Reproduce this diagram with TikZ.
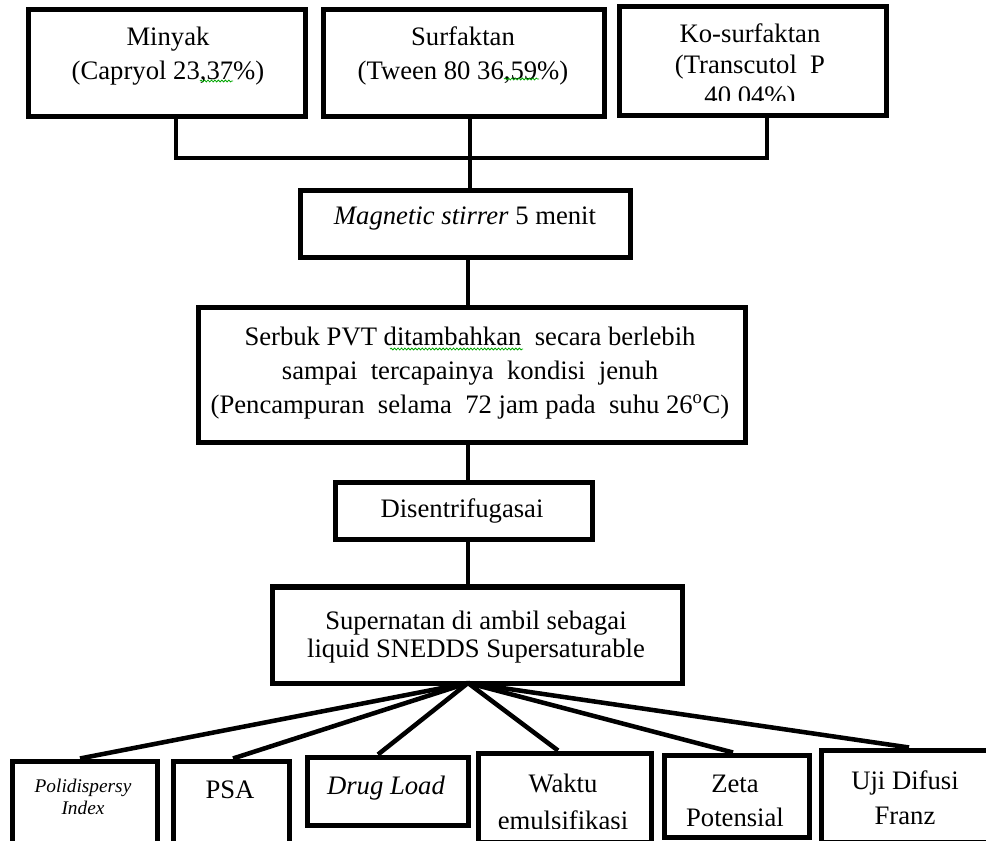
\documentclass[tikz,border=0pt]{standalone}
\usepackage{fontspec}
\setmainfont{Liberation Serif}
\usetikzlibrary{fit,decorations.pathmorphing}
\tikzset{
  box/.style={draw, line width=3.75pt, inner sep=0pt},
  txt/.style={align=center, inner sep=0pt, font=\fontsize{20}{25.5}\selectfont},
  conn/.style={line width=3.4pt},
  squig/.style={draw=green!65!black, line width=0.6pt, decorate,
    decoration={snake, amplitude=0.7, segment length=2.6}}
}
\begin{document}
\begin{tikzpicture}[x=0.75pt,y=-0.75pt]
\useasboundingbox (0,0) rectangle (986,841);
\clip (0,0) rectangle (986,841);

% ---- top row
\node[box, fit={(28,10) (305,117)}] (minyak) {};
\node[box, fit={(323,10) (604,117)}] (surf) {};
\node[box, fit={(619,7) (886,116)}] (ko) {};
\node[txt] (minyakT) at (168,56) {Minyak\\(Capryol 23,37\%)};
\node[txt] (surfT) at (463,56) {Surfaktan\\(Tween 80 36,59\%)};
\begin{scope}
  \clip (619,7) rectangle (886,101);
  \node[txt, font=\fontsize{20}{23.5}\selectfont] (koT) at (750,67) {Ko-surfaktan\\(Transcutol~~P\\40,04\%)};
\end{scope}
\draw[squig] (200,81) -- (233,81);
\draw[squig] (504,79) -- (539,79);

% ---- chain
\node[box, fit={(300,191) (630,258)}] (mag) {};
\node[txt] (magT) at (465,219) {\textit{Magnetic stirrer} 5 menit};
\node[box, fit={(198,308) (745,443)}] (serbuk) {};
\node[txt] (serbukT) at (470,373) {Serbuk PVT ditambahkan~ secara berlebih\\sampai~ tercapainya~ kondisi~ jenuh\\(Pencampuran~ selama~ 72 jam pada~ suhu 26\textsuperscript{o}C)};
\draw[squig] (390,349) -- (523,349);
\node[box, fit={(335,483) (592,540)}] (dis) {};
\node[txt] (disT) at (462,511) {Disentrifugasai};
\node[box, fit={(272,587) (682,683)}] (sup) {};
\node[txt, font=\fontsize{20}{21.5}\selectfont] (supT) at (476,637) {Supernatan di ambil sebagai\\liquid SNEDDS Supersaturable};

% ---- connectors top
\coordinate (jl) at (176,158);
\coordinate (jr) at (767,158);
\draw[conn] (minyak.south -| jl) -- (jl) -- (jr) -- (ko.south -| jr);
\draw[conn] (surf.south -| 470,0) -- (mag.north -| 470,0);
\draw[conn] (mag.south -| 468,0) -- (serbuk.north -| 468,0);
\draw[conn] (serbuk.south -| 468,0) -- (dis.north -| 468,0);
\draw[conn] (dis.south -| 468,0) -- (sup.north -| 468,0);

% ---- bottom row
\node[box, fit={(12,761) (157,850)}] (pdi) {};
\node[box, fit={(173,761) (289,850)}] (psa) {};
\node[box, fit={(307,757) (468,825)}] (drug) {};
\node[box, fit={(478,753) (651,842)}] (waktu) {};
\node[box, fit={(664,755) (809,837)}] (zeta) {};
\node[box, fit={(821,750) (1000,842)}] (uji) {};

\node[txt, font=\fontsize{14.5}{17}\selectfont\itshape] (pdiT) at (83,797) {Polidispersy\\Index};
\node[txt] (psaT) at (230,790) {PSA};
\node[txt] (drugT) at (386,788) {\textit{Drug Load}};
\begin{scope}
  \clip (478,753) rectangle (651,828);
  \node[txt, font=\fontsize{20}{27.5}\selectfont] (waktuT) at (563,802) {Waktu\\emulsifikasi};
\end{scope}
\begin{scope}
  \clip (664,755) rectangle (809,826);
  \node[txt, font=\fontsize{20}{26}\selectfont] (zetaT) at (735,801) {Zeta\\Potensial};
\end{scope}
\node[txt, font=\fontsize{20}{26}\selectfont] (ujiT) at (905,798) {Uji Difusi\\Franz};

% ---- fan
\coordinate (fan) at (468,683);
\draw[conn] (fan) -- (pdi.north -| 80,0);
\draw[conn] (fan) -- (psa.north -| 233,0);
\draw[conn] (fan) -- (drug.north -| 378,0);
\draw[conn] (fan) -- (waktu.north -| 558,0);
\draw[conn] (fan) -- (zeta.north -| 733,0);
\draw[conn] (fan) -- (uji.north -| 909,0);
\end{tikzpicture}
\end{document}
